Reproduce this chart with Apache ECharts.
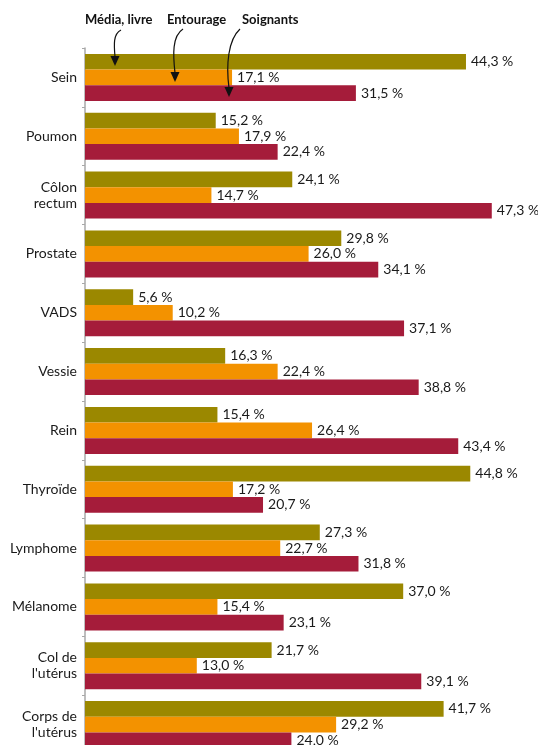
<!DOCTYPE html>
<html>
<head>
<meta charset="utf-8">
<script src="https://cdn.jsdelivr.net/npm/echarts@6/dist/echarts.min.js"></script>
<style>
  html, body { margin: 0; padding: 0; background: #fff; overflow: hidden; }
  /* taller than the window: the last bars are cut off like in the source */
  #chart { width: 538px; height: 762px; }
</style>
</head>
<body>
<div id="chart"></div>
<script>
// categories, top to bottom
const categories = [
  "Sein", "Poumon", "Côlon\nrectum", "Prostate", "VADS", "Vessie",
  "Rein", "Thyroïde", "Lymphome", "Mélanome", "Col de\nl'utérus", "Corps de\nl'utérus"
];
const seriesNames = ["Média, livre", "Entourage", "Soignants"];
const media = [44.3, 15.2, 24.1, 29.8, 5.6, 16.3, 15.4, 44.8, 27.3, 37.0, 21.7, 41.7];
const entourage = [17.1, 17.9, 14.7, 26.0, 10.2, 22.4, 26.4, 17.2, 22.7, 15.4, 13.0, 29.2];
const soignants = [31.5, 22.4, 47.3, 34.1, 37.1, 38.8, 43.4, 20.7, 31.8, 23.1, 39.1, 24.0];
const colors = ["#9b8800", "#f39200", "#a51c3a"];

const font = "Lato, 'Open Sans', sans-serif";

function makeSeries(name, data, color) {
  return {
    name: name,
    type: "bar",
    data: data,
    barGap: 0,
    barCategoryGap: "20%",
    itemStyle: { color: color },
    label: {
      show: true,
      position: "right",
      distance: 5,
      color: "#1a1a1a",
      fontSize: 14,
      fontFamily: font,
      formatter: function (p) {
        return p.value.toFixed(1).replace(".", ",") + " %";
      }
    },
    silent: true
  };
}

// annotation arrows from the legend words down into the bars
function arrow(x1, y1, cx1, cy1, cx2, cy2, x2, y2) {
  return [
    {
      type: "bezierCurve",
      shape: { x1: x1, y1: y1, cpx1: cx1, cpy1: cy1, cpx2: cx2, cpy2: cy2, x2: x2, y2: y2 },
      style: { stroke: "#111", lineWidth: 1.2, fill: null },
      z: 100
    },
    {
      type: "polygon",
      shape: { points: [[x2 - 4.5, y2 - 1], [x2 + 4.5, y2 - 1], [x2, y2 + 9]] },
      style: { fill: "#111" },
      z: 100
    }
  ];
}

const chart = echarts.init(document.getElementById("chart"));
const option = {
  animation: false,
  grid: { left: 85, width: 430, top: 48, height: 706 },
  xAxis: {
    type: "value",
    min: 0,
    max: 50,
    show: false
  },
  yAxis: {
    type: "category",
    data: categories,
    inverse: true,
    axisLine: { show: true, lineStyle: { color: "#a8a8a8", width: 1.5 } },
    axisTick: { show: true, length: 3, lineStyle: { color: "#a8a8a8", width: 1 } },
    axisLabel: {
      color: "#1a1a1a",
      fontSize: 14,
      fontFamily: font,
      lineHeight: 16,
      margin: 8,
      align: "right"
    }
  },
  graphic: [
    {
      type: "text",
      left: 85,
      top: 13,
      style: { text: seriesNames[0], font: "bold 13px " + font, fill: "#111" }
    },
    {
      type: "text",
      left: 167,
      top: 13,
      style: { text: seriesNames[1], font: "bold 13px " + font, fill: "#111" }
    },
    {
      type: "text",
      left: 242,
      top: 13,
      style: { text: seriesNames[2], font: "bold 13px " + font, fill: "#111" }
    }
  ]
    .concat(arrow(121, 30, 113, 34, 114, 45, 115, 57))
    .concat(arrow(183, 29, 172, 36, 173, 55, 175, 73))
    .concat(arrow(240, 29, 228, 40, 226, 65, 229, 88)),
  series: [
    makeSeries(seriesNames[0], media, colors[0]),
    makeSeries(seriesNames[1], entourage, colors[1]),
    makeSeries(seriesNames[2], soignants, colors[2])
  ]
};
chart.setOption(option);
</script>
</body>
</html>
